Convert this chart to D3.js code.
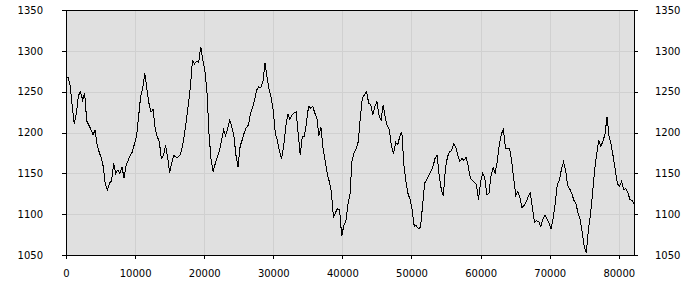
<!DOCTYPE html>
<html>
<head>
<meta charset="utf-8">
<script src="https://cdn.jsdelivr.net/npm/d3@7"></script>
<style>
  body { margin: 0; background: #fff; }
  .axis text { font-family: "DejaVu Sans", sans-serif; font-size: 10px; fill: #000; }
  .axis path, .axis line { stroke: #000; shape-rendering: crispEdges; }
</style>
</head>
<body>
<div id="chart"></div>
<script>
// sample spacing along x
const xStep = 300;

// series values, one every xStep
const values = [
  1266,1268,1258,1232,1210,1224,1245,1250,1240,1248,1214,1209,1204,1197,1203,1185,1176,1169,1158,1136,
  1130,1138,1141,1162,1150,1154,1150,1158,1144,1160,1166,1172,1176,1186,1195,1219,1244,1254,1273,1254,
  1236,1225,1228,1205,1195,1189,
  1168,1172,1184,1170,1151,1163,1172,1170,1170,1172,1181,1196,1214,1234,1256,1288,1284,1287,1286,1305,
  1289,1275,1250,1198,1166,1152,1162,1170,1177,1190,1203,1196,1205,1215,1207,1195,1172,1158,1183,1191,
  1200,1206,1209,1224,1230,
  1240,1252,1256,1255,1262,1285,1268,1252,1243,1226,1198,1190,1177,1168,1183,1207,1223,1216,1221,1224,
  1225,1199,1172,1195,1195,1212,1232,1230,1232,1224,1218,1196,1206,1181,1166,1150,1140,1128,1096,1102,
  1107,1105,1073,1086,1091,1112,
  1125,1166,1175,1180,1189,1219,1243,1246,1250,1236,1234,1222,1232,1238,1221,1215,1234,1218,1208,1203,
  1183,1174,1188,1185,1195,1201,1160,1140,1125,1118,1105,1085,1086,1082,1084,1110,1138,1142,1147,1152,
  1158,1168,1172,1148,1131,
  1122,1155,1170,1176,1178,1186,1182,1172,1165,1168,1166,1170,1159,1145,1141,1139,1136,1118,1140,1150,
  1145,1124,1125,1146,1157,1150,1164,1184,1198,1204,1181,1180,1180,1165,1143,1123,1128,1120,1108,1111,
  1115,1122,1126,1107,1090,
  1092,1091,1085,1093,1099,1094,1089,1082,1095,1113,1136,1142,1155,1164,1154,1135,1131,1125,1117,1113,
  1101,1094,1078,1060,1052,1081,1100,1125,1154,1174,1191,1183,1189,1198,1219,1195,1185,1170,1154,1137,
  1134,1140,1130,1131,1127,1118,1117,1113
];

const xTicks = [0, 10000, 20000, 30000, 40000, 50000, 60000, 70000, 80000];
const yTicks = [1050, 1100, 1150, 1200, 1250, 1300, 1350];
const xMax = 82200;

const data = values.map((v, i) => ({ x: i * xStep, y: v }));

let width = 700,
    height = 300;

let margin = { top: 10, left: 66, right: 66, bottom: 45 };
let w = width - margin.left - margin.right,
    h = height - margin.top - margin.bottom;

let svg = d3.select("#chart")
    .append("svg")
    .attr("width", width)
    .attr("height", height)
    .append("g")
    .attr("transform", `translate(${margin.left},${margin.top})`);

let x = d3.scaleLinear().domain([0, xMax]).range([0, w]);
let y = d3.scaleLinear().domain([1050, 1350]).range([h, 0]);

// background
svg.append("rect")
    .attr("width", w)
    .attr("height", h)
    .attr("fill", "#e0e0e0");

// grid
svg.append("g")
    .selectAll("line")
    .data(xTicks)
    .enter()
    .append("line")
    .attr("x1", d => Math.round(x(d)) + 0.5)
    .attr("x2", d => Math.round(x(d)) + 0.5)
    .attr("y1", 0)
    .attr("y2", h)
    .attr("stroke", "#d0d0d0");

svg.append("g")
    .selectAll("line")
    .data(yTicks)
    .enter()
    .append("line")
    .attr("x1", 0)
    .attr("x2", w)
    .attr("y1", d => Math.round(y(d)) + 0.5)
    .attr("y2", d => Math.round(y(d)) + 0.5)
    .attr("stroke", "#d0d0d0");

// the series (aliased, like the original)
let line = d3.line()
    .x(d => x(d.x))
    .y(d => y(d.y));

svg.append("path")
    .datum(data)
    .attr("fill", "none")
    .attr("stroke", "#000")
    .attr("stroke-width", 1)
    .attr("shape-rendering", "crispEdges")
    .attr("d", line);

// top edge of the frame
svg.append("line")
    .attr("x1", 0)
    .attr("x2", w)
    .attr("y1", 0.5)
    .attr("y2", 0.5)
    .attr("stroke", "#000");

// axes
svg.append("g")
    .attr("class", "axis")
    .call(d3.axisLeft(y).tickValues(yTicks).tickFormat(d3.format("d"))
        .tickSize(4).tickPadding(19).tickSizeOuter(0));

svg.append("g")
    .attr("class", "axis")
    .attr("transform", `translate(${w},0)`)
    .call(d3.axisRight(y).tickValues(yTicks).tickFormat(d3.format("d"))
        .tickSize(4).tickPadding(17).tickSizeOuter(0));

svg.append("g")
    .attr("class", "axis")
    .attr("transform", `translate(0,${h})`)
    .call(d3.axisBottom(x).tickValues(xTicks).tickFormat(d3.format("d"))
        .tickSize(4).tickPadding(11).tickSizeOuter(0));
</script>
</body>
</html>
